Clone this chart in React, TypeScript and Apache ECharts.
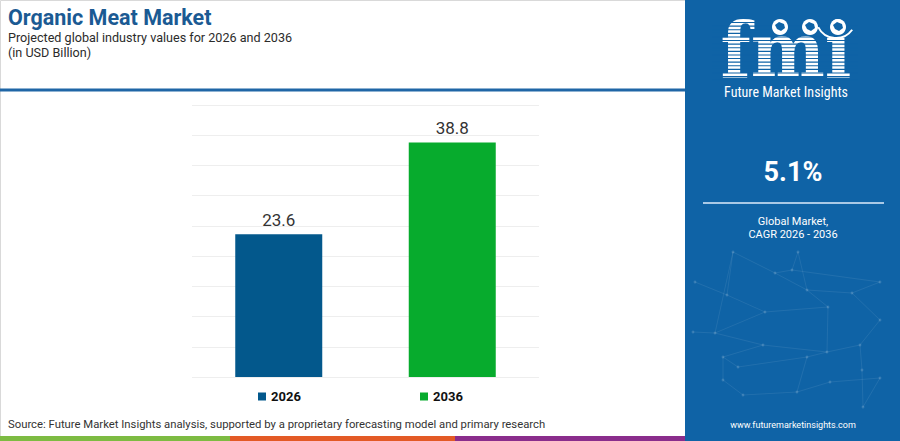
import React, { useEffect, useRef } from "react";
import * as echarts from "echarts";

const categories = ["2026", "2036"];
const values2026 = [23.6, "-"];
const values2036 = ["-", 38.8];
const seriesNames = ["2026", "2036"];
const cagrText = "5.1%";

const PANEL = "#0f63a6";

const netNodes: [number, number][] = [
  [733, 252], [798, 252], [775, 273], [792, 270], [880, 282], [727, 295],
  [807, 290], [852, 293], [695, 282], [828, 307], [765, 312], [715, 333],
  [693, 332], [763, 345], [827, 352], [860, 345], [880, 320], [723, 357],
  [738, 367], [807, 357], [862, 370], [723, 380], [743, 395], [797, 392],
  [830, 382], [880, 378], [863, 407],
];
const netEdges: [number, number][] = [
  [0, 5], [0, 2], [1, 3], [2, 3], [3, 4], [2, 6], [6, 7], [7, 4], [8, 5],
  [5, 10], [6, 9], [9, 10], [10, 11], [11, 12], [11, 13], [13, 14], [14, 15],
  [15, 16], [16, 7], [13, 17], [17, 18], [18, 19], [19, 14], [15, 20],
  [17, 21], [21, 22], [22, 23], [23, 24], [24, 25], [25, 26], [20, 26],
  [0, 11], [9, 14], [19, 23], [1, 6],
];

export default function App() {
  const ref = useRef<HTMLDivElement>(null);
  useEffect(() => {
    if (!ref.current) return;
    const chart = echarts.init(ref.current, null, { renderer: "svg" });

    const graphics: any[] = [];
    graphics.push({
      type: "rect",
      shape: { x: 0.5, y: 0.5, width: 690, height: 440 },
      style: { fill: "none", stroke: "#d9d9d9", lineWidth: 1 },
      z: 0,
    });
    graphics.push({
      type: "text",
      left: 8,
      top: 6,
      style: {
        text: "Organic Meat Market",
        font: "bold 21.5px Roboto, 'Noto Sans', sans-serif",
        fill: "#1b5a93",
        lineHeight: 20,
      },
    });
    graphics.push({
      type: "text",
      left: 8,
      top: 31,
      style: {
        text: "Projected global industry values for 2026 and 2036",
        font: "12.6px Roboto, 'Noto Sans', sans-serif",
        fill: "#2b2b2b",
        lineHeight: 12,
      },
    });
    graphics.push({
      type: "text",
      left: 8,
      top: 46,
      style: {
        text: "(in USD Billion)",
        font: "12.6px Roboto, 'Noto Sans', sans-serif",
        fill: "#2b2b2b",
        lineHeight: 12,
      },
    });
    graphics.push({
      type: "rect",
      shape: { x: 0, y: 88.5, width: 686, height: 3 },
      style: { fill: "#1f66a6" },
    });
    graphics.push({
      type: "text",
      left: 8,
      top: 419,
      style: {
        text:
          "Source: Future Market Insights analysis, supported by a proprietary forecasting model and primary research",
        font: "11.3px Roboto, 'Noto Sans', sans-serif",
        fill: "#333333",
      },
    });
    graphics.push({ type: "rect", shape: { x: 0, y: 436, width: 230, height: 5 }, style: { fill: "#7dbb42" } });
    graphics.push({ type: "rect", shape: { x: 230, y: 436, width: 225, height: 5 }, style: { fill: "#e35a26" } });
    graphics.push({ type: "rect", shape: { x: 455, y: 436, width: 231, height: 5 }, style: { fill: "#8a2d8c" } });

    graphics.push({
      type: "rect",
      shape: { x: 685, y: 0, width: 215, height: 441 },
      style: { fill: PANEL },
      z: 1,
    });
    netEdges.forEach(([a, b]) => {
      graphics.push({
        type: "line",
        shape: { x1: netNodes[a][0], y1: netNodes[a][1], x2: netNodes[b][0], y2: netNodes[b][1] },
        style: { stroke: "rgba(255,255,255,0.08)", lineWidth: 1 },
        z: 2,
      });
    });
    netNodes.forEach(([x, y]) => {
      graphics.push({
        type: "circle",
        shape: { cx: x, cy: y, r: 1.4 },
        style: { fill: "rgba(255,255,255,0.16)" },
        z: 2,
      });
    });
    graphics.push({
      type: "text",
      x: 786,
      y: 50,
      scaleY: 1.1,
      style: {
        text: "fmi",
        font: "bold 70px 'DejaVu Serif', serif",
        fill: "#ffffff",
        align: "center",
        verticalAlign: "middle",
        lineHeight: 50,
      },
      z: 3,
    });
    for (let y = 22; y < 82; y += 3.6) {
      graphics.push({
        type: "rect",
        shape: { x: 712, y: y, width: 146, height: 1.1 },
        style: { fill: PANEL },
        z: 4,
      });
    }
    const gy = 27;
    [780, 810, 838].forEach((cx) => {
      graphics.push({
        type: "circle",
        shape: { cx, cy: gy, r: 8 },
        style: { fill: "#ffffff" },
        z: 5,
      });
      graphics.push({
        type: "polygon",
        shape: {
          points: [
            [cx - 5, gy - 2], [cx - 1, gy - 5], [cx + 4, gy - 3],
            [cx + 5, gy + 1], [cx + 1, gy + 4], [cx - 3, gy + 2],
          ],
        },
        style: { fill: PANEL },
        z: 6,
      });
    });
    graphics.push({
      type: "arc",
      shape: { cx: 836, cy: 18, r: 20, startAngle: Math.PI * 0.2, endAngle: Math.PI * 0.85 },
      style: { stroke: "#ffffff", lineWidth: 2, fill: "none" },
      z: 6,
    });
    graphics.push({
      type: "text",
      x: 786,
      y: 92,
      style: {
        text: "Future Market Insights",
        font: "14px 'Liberation Sans Narrow', 'Roboto Condensed', Roboto, sans-serif",
        fill: "#ffffff",
        align: "center",
        verticalAlign: "middle",
        lineHeight: 14,
      },
      z: 6,
    });
    graphics.push({
      type: "text",
      x: 793,
      y: 172,
      style: {
        text: cagrText,
        font: "bold 27px Roboto, 'Noto Sans', sans-serif",
        fill: "#ffffff",
        align: "center",
        verticalAlign: "middle",
      },
      z: 6,
    });
    graphics.push({
      type: "rect",
      shape: { x: 703, y: 202, width: 181, height: 2 },
      style: { fill: "#a9c9e6" },
      z: 6,
    });
    graphics.push({
      type: "text",
      x: 793,
      y: 221,
      style: {
        text: "Global Market,",
        font: "11px Roboto, 'Noto Sans', sans-serif",
        fill: "#ffffff",
        align: "center",
        verticalAlign: "middle",
      },
      z: 6,
    });
    graphics.push({
      type: "text",
      x: 793,
      y: 234,
      style: {
        text: "CAGR 2026 - 2036",
        font: "11px Roboto, 'Noto Sans', sans-serif",
        fill: "#ffffff",
        align: "center",
        verticalAlign: "middle",
      },
      z: 6,
    });
    graphics.push({
      type: "text",
      x: 793,
      y: 425,
      style: {
        text: "www.futuremarketinsights.com",
        font: "9px Roboto, 'Noto Sans', sans-serif",
        fill: "#ffffff",
        align: "center",
        verticalAlign: "middle",
      },
      z: 6,
    });

    const legendBase = {
      orient: "horizontal",
      padding: 0,
      top: 390,
      icon: "rect",
      itemWidth: 8,
      itemHeight: 8,
      itemGap: 5,
      textStyle: {
        fontFamily: "Roboto, 'Noto Sans', sans-serif",
        fontSize: 13,
        fontWeight: "bold",
        color: "#111111",
      },
    };

    const labelStyle = {
      show: true,
      position: "top",
      distance: 6,
      fontSize: 17,
      fontFamily: "Roboto, 'Noto Sans', sans-serif",
      color: "#333333",
    };

    chart.setOption({
      animation: false,
      backgroundColor: "#ffffff",
      grid: { left: 192, right: 361, top: 105, bottom: 64, containLabel: false },
      legend: [
        { ...legendBase, left: 258, data: [seriesNames[0]] },
        { ...legendBase, left: 420, data: [seriesNames[1]] },
      ],
      xAxis: {
        type: "category",
        data: categories,
        axisLine: { show: false },
        axisTick: { show: false },
        axisLabel: { show: false },
      },
      yAxis: {
        type: "value",
        min: 0,
        max: 45,
        interval: 5,
        axisLabel: { show: false },
        axisLine: { show: false },
        axisTick: { show: false },
        splitLine: { lineStyle: { color: "#eeeeee", width: 1 } },
      },
      series: [
        {
          name: seriesNames[0],
          type: "bar",
          stack: "all",
          data: values2026,
          barWidth: 87,
          itemStyle: { color: "#03588c" },
          label: labelStyle,
        },
        {
          name: seriesNames[1],
          type: "bar",
          stack: "all",
          data: values2036,
          barWidth: 87,
          itemStyle: { color: "#07ab2d" },
          label: labelStyle,
        },
      ],
      graphic: graphics,
    });
    return () => chart.dispose();
  }, []);
  return (
    <div
      ref={ref}
      style={{ position: "absolute", left: 0, top: 0, width: 900, height: 441 }}
    />
  );
}
